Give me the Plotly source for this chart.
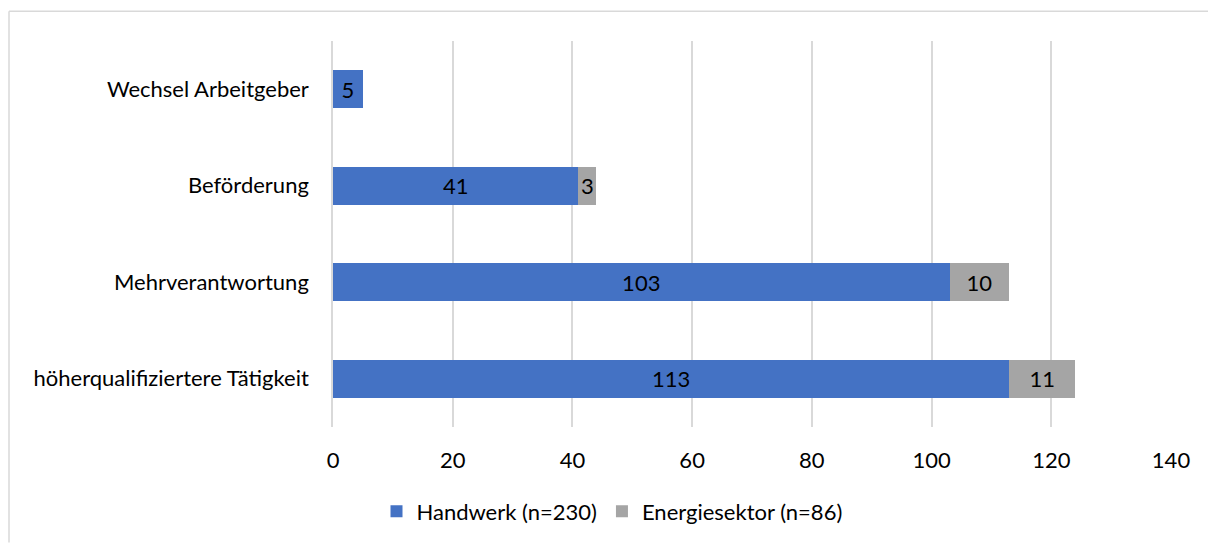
import plotly.graph_objects as go

# Categories listed bottom to top (as plotted on the y axis)
categories = [
    "höherqualifiziertere Tätigkeit",
    "Mehrverantwortung",
    "Beförderung",
    "Wechsel Arbeitgeber",
]
handwerk = [113, 103, 41, 5]
energie = [11, 10, 3, 0]

series_names = ["Handwerk (n=230)", "Energiesektor (n=86)"]
colors = ["#4472C4", "#A5A5A5"]
x_ticks = [0, 20, 40, 60, 80, 100, 120, 140]

FONT = "Lato, Carlito, Calibri, sans-serif"
FS = 22
W, H = 1208, 545
L, R, T, B = 333, 37, 41, 116
pw, ph = W - L - R, H - T - B


def px_x(p):
    return (p - L) / pw


def px_y(p):
    return (H - B - p) / ph


fig = go.Figure()
for name, vals, col in zip(series_names, [handwerk, energie], colors):
    fig.add_trace(go.Bar(
        y=categories, x=vals, name=name, orientation="h",
        marker=dict(color=col, line=dict(width=0)),
        text=[str(v) if v else "" for v in vals],
        textposition="inside", insidetextanchor="middle",
        textfont=dict(color="#000000", size=FS, family=FONT),
        constraintext="none",
    ))

fig.update_layout(
    barmode="stack", bargap=0.61,
    width=W, height=H,
    margin=dict(l=L, r=R, t=T, b=B),
    paper_bgcolor="white", plot_bgcolor="white",
    font=dict(family=FONT, size=FS, color="#000000"),
    uniformtext=dict(mode=False),
    legend=dict(orientation="h", x=px_x(612), xanchor="center",
                y=px_y(514), yanchor="middle",
                font=dict(size=FS, family=FONT), traceorder="normal",
                itemsizing="constant"),
    xaxis=dict(range=[0, 140], tickvals=x_ticks, showgrid=True,
               gridcolor="#D9D9D9", gridwidth=1.5, zeroline=False,
               showline=False, ticks="", ticklabelstandoff=18,
               tickfont=dict(size=FS, family=FONT)),
    yaxis=dict(showgrid=False, showline=True, linecolor="#D9D9D9",
               linewidth=1.5, ticks="", ticklabelstandoff=18,
               tickfont=dict(size=FS, family=FONT)),
    shapes=[
        dict(type="line", xref="paper", yref="paper",
             x0=px_x(9), x1=px_x(W), y0=px_y(11), y1=px_y(11),
             line=dict(color="#D9D9D9", width=1.5)),
        dict(type="line", xref="paper", yref="paper",
             x0=px_x(9), x1=px_x(9), y0=px_y(11), y1=px_y(H),
             line=dict(color="#D9D9D9", width=1.5)),
    ],
)

fig.write_html("out.html")
